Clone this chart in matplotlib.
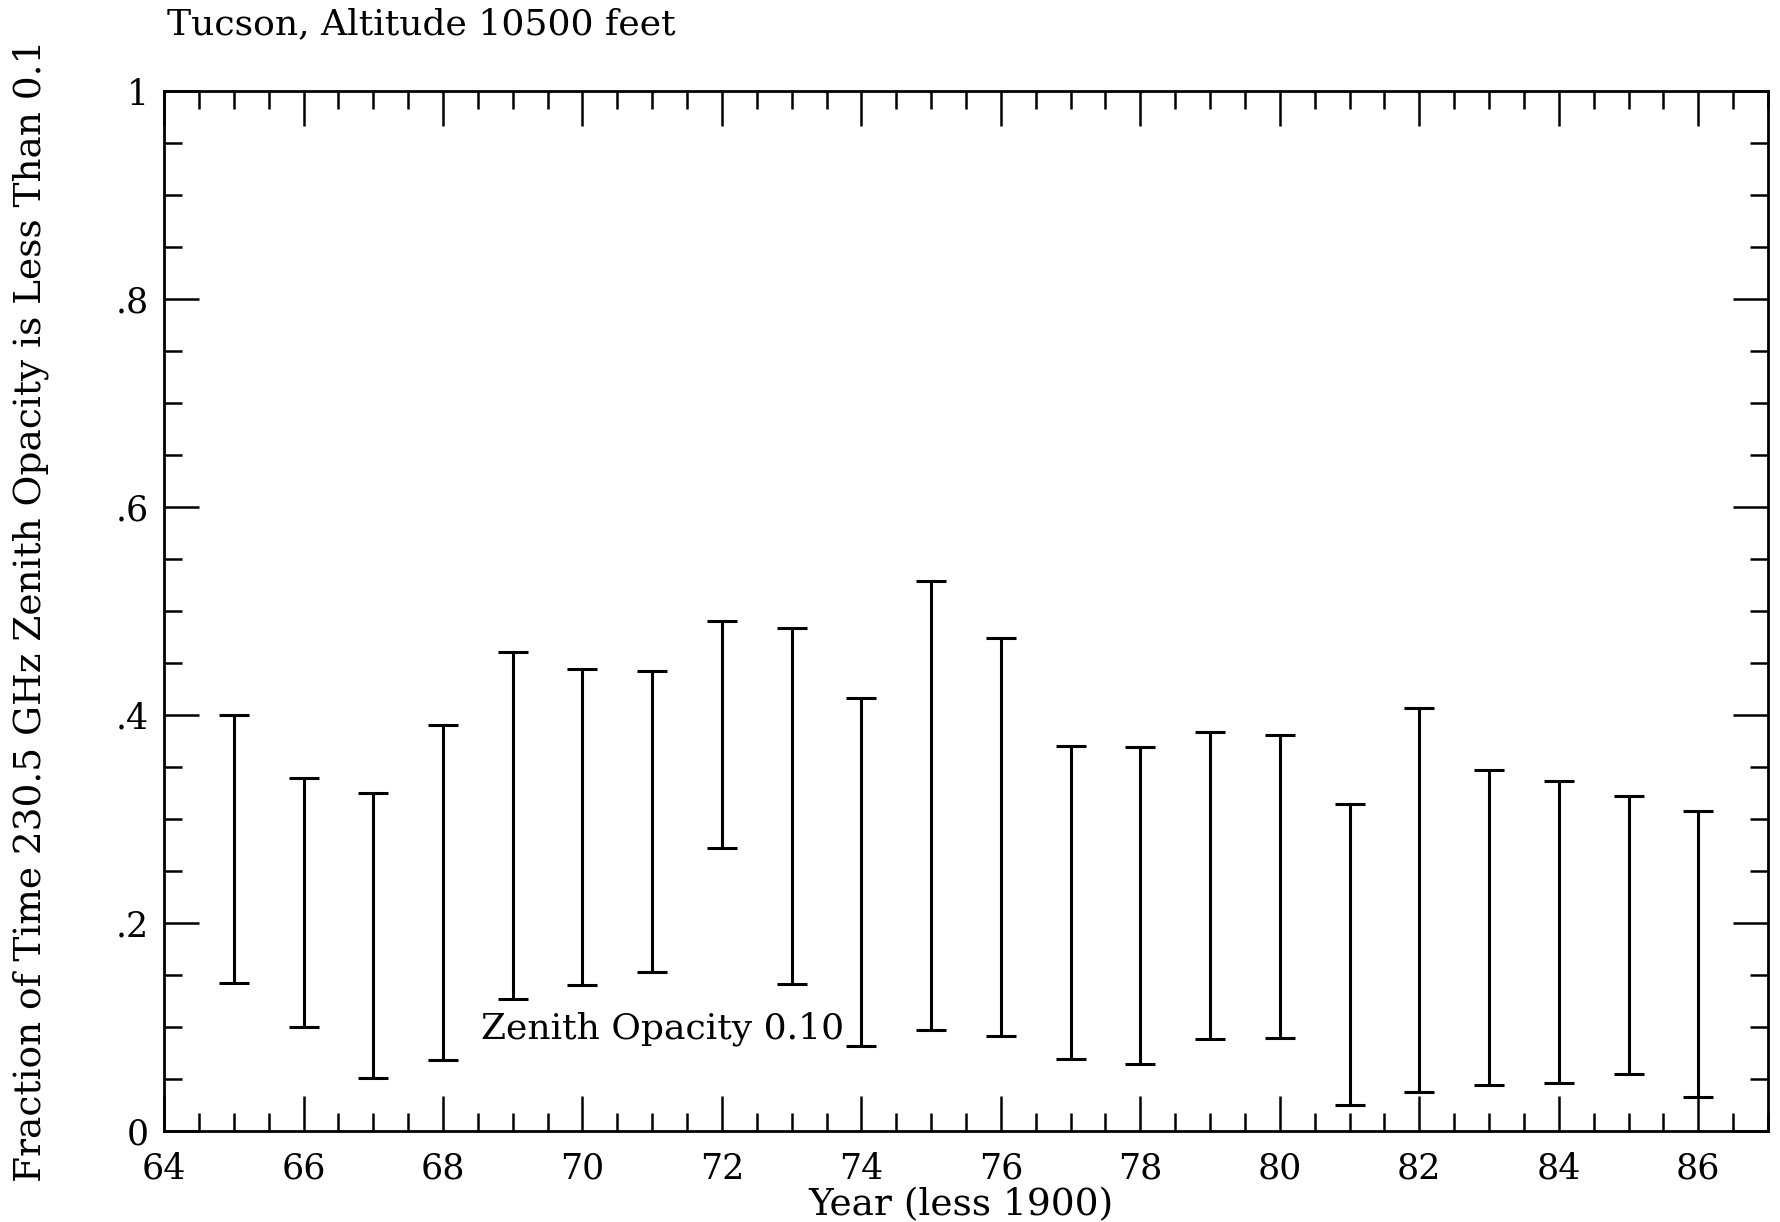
import numpy as np
import matplotlib
matplotlib.use("Agg")
import matplotlib.pyplot as plt
from matplotlib.ticker import MultipleLocator, FixedLocator

# Dados (fração do tempo com opacidade < 0.1)
anos = [65, 66, 67, 68, 69, 70, 71, 72, 73, 74, 75, 76, 77, 78, 79, 80, 81, 82, 83, 84, 85, 86]
inferior = [0.142, 0.100, 0.051, 0.068, 0.127, 0.140, 0.153, 0.272, 0.141, 0.082, 0.097,
            0.091, 0.069, 0.064, 0.088, 0.089, 0.025, 0.037, 0.044, 0.046, 0.055, 0.033]
superior = [0.400, 0.339, 0.325, 0.390, 0.461, 0.444, 0.442, 0.490, 0.484, 0.416, 0.529,
            0.474, 0.370, 0.369, 0.384, 0.381, 0.314, 0.407, 0.347, 0.337, 0.322, 0.308]

yticks = [0, 0.2, 0.4, 0.6, 0.8, 1.0]
ytick_labels = ["0", ".2", ".4", ".6", ".8", "1"]
xticks = list(range(64, 87, 2))

plt.rcParams["font.family"] = ["DejaVu Serif"]

fig = plt.figure(figsize=(17.81, 12.22), dpi=100)
ax = fig.add_axes([0.0921, 0.0745, 0.9006, 0.851])

inf = np.array(inferior)
sup = np.array(superior)
centro = (inf + sup) / 2
meio = (sup - inf) / 2
ax.errorbar(anos, centro, yerr=meio, fmt="none", ecolor="black",
            elinewidth=2.2, capsize=11, capthick=2.2)

ax.set_xlim(64, 87)
ax.set_ylim(0, 1)
ax.xaxis.set_major_locator(FixedLocator(xticks))
ax.xaxis.set_minor_locator(MultipleLocator(0.5))
ax.set_yticks(yticks)
ax.set_yticklabels(ytick_labels)
ax.yaxis.set_minor_locator(MultipleLocator(0.05))

ax.tick_params(which="both", direction="in", top=True, right=True, width=1.8, labelsize=25)
ax.tick_params(which="major", length=25)
ax.tick_params(which="minor", length=13)
ax.tick_params(axis="x", which="major", pad=15)
ax.tick_params(axis="y", which="major", pad=11)
for s in ax.spines.values():
    s.set_linewidth(2.0)

ax.set_xlabel("Year (less 1900)", fontsize=27)
ax.xaxis.set_label_coords(0.497, -0.054)
ax.set_ylabel("Fraction of Time 230.5 GHz Zenith Opacity is Less Than 0.1", fontsize=27)
ax.yaxis.set_label_coords(-0.072, 0.5)
fig.text(0.094, 0.980, "Tucson, Altitude 10500 feet", fontsize=26, ha="left", va="center")
ax.text(68.55, 0.098, "Zenith Opacity 0.10", fontsize=26, ha="left", va="center")

fig.savefig("out.png", dpi=100)
